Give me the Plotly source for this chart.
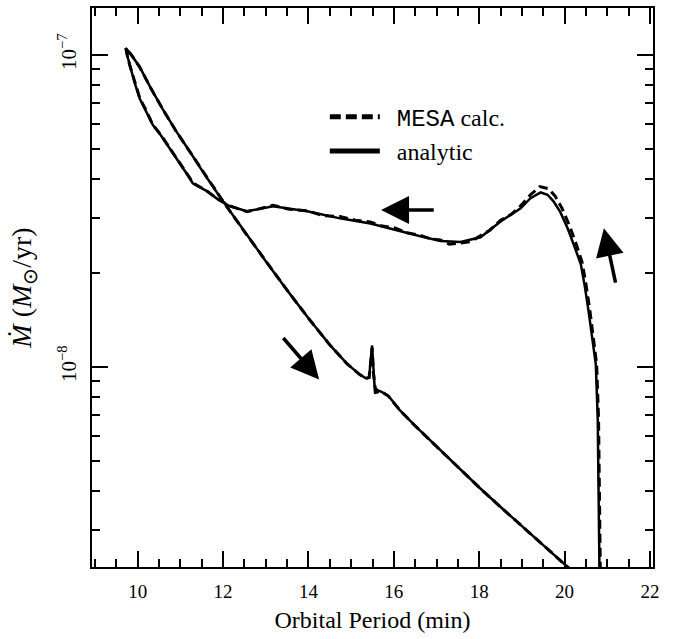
import math
import plotly.graph_objects as go

# ---- data (orbital period in min, mass-transfer rate in Msun/yr), in time order ----
# analytic: rise at P~20.8, plateau leftwards, up to P_min, then straight down-right
analytic_P = [20.82, 20.80, 20.775, 20.73, 20.65, 20.56, 20.47, 20.38, 20.22, 20.07, 19.90, 19.74, 19.60,
              19.44, 19.20, 18.97, 18.50, 18.03, 17.56, 17.09, 16.62, 16.01, 15.45, 14.74, 13.97,
              13.17, 12.86, 12.56, 12.16, 11.88,
              11.60, 11.29, 11.22, 10.75, 10.55, 10.35, 10.20, 10.05, 9.93, 9.81, 9.76, 9.72,
              9.85, 10.05, 10.30, 10.59, 10.90, 11.22, 11.60, 12.00, 12.50, 13.00, 13.50, 14.00,
              14.50, 14.90, 15.20, 15.35, 15.42, 15.46, 15.49, 15.52, 15.56, 15.62, 15.70, 15.87,
              16.15, 16.50, 17.02, 17.50, 18.00, 18.50, 19.00, 19.50, 20.15]
analytic_Mdot = [2.0e-9, 4.23e-9, 6.87e-9, 1.02e-8, 1.245e-8, 1.51e-8, 1.82e-8, 2.13e-8, 2.45e-8, 2.78e-8, 3.13e-8, 3.39e-8, 3.56e-8,
                 3.62e-8, 3.47e-8, 3.22e-8, 2.92e-8, 2.60e-8, 2.51e-8, 2.53e-8, 2.62e-8, 2.76e-8, 2.88e-8, 2.99e-8, 3.15e-8,
                 3.27e-8, 3.20e-8, 3.15e-8, 3.27e-8, 3.44e-8,
                 3.67e-8, 3.87e-8, 4.02e-8, 5.01e-8, 5.50e-8, 5.97e-8, 6.61e-8, 7.23e-8, 8.13e-8, 9.29e-8, 9.89e-8, 1.052e-7,
                 1.0e-7, 9.12e-8, 7.85e-8, 6.68e-8, 5.69e-8, 4.90e-8, 4.07e-8, 3.39e-8, 2.71e-8, 2.18e-8, 1.76e-8, 1.43e-8,
                 1.175e-8, 1.023e-8, 9.44e-9, 9.18e-9, 9.23e-9, 1.05e-8, 1.17e-8, 1.0e-8, 8.2e-9, 8.41e-9, 8.32e-9, 8.07e-9,
                 7.23e-9, 6.46e-9, 5.51e-9, 4.75e-9, 4.10e-9, 3.55e-9, 3.09e-9, 2.68e-9, 2.23e-9]

# MESA calculation: same track with numerical noise, slightly higher peak
mesa_P = [20.84, 20.82, 20.795, 20.75, 20.67, 20.59, 20.50, 20.41, 20.26, 20.11, 19.94, 19.78, 19.62,
          19.42, 19.20, 18.97, 18.75, 18.50, 18.25, 18.03, 17.80, 17.56, 17.30, 17.09, 16.85, 16.62,
          16.30, 16.01, 15.70, 15.45, 15.10, 14.74, 14.35, 13.97, 13.55,
          13.17, 12.86, 12.56, 12.16, 11.88,
          11.60, 11.29, 11.22, 10.75, 10.55, 10.35, 10.20, 10.05, 9.93, 9.81, 9.76, 9.72,
          9.85, 10.05, 10.30, 10.59, 10.90, 11.22, 11.60, 12.00, 12.50, 13.00, 13.50, 14.00,
          14.50, 14.90, 15.20, 15.35, 15.42, 15.46, 15.49, 15.52, 15.56, 15.62, 15.70, 15.87,
          16.15, 16.50, 17.02, 17.50, 18.00, 18.50, 19.00, 19.50, 20.15]
mesa_Mdot = [2.0e-9, 4.20e-9, 6.80e-9, 1.02e-8, 1.25e-8, 1.52e-8, 1.84e-8, 2.16e-8, 2.50e-8, 2.84e-8, 3.22e-8, 3.52e-8, 3.72e-8,
             3.78e-8, 3.56e-8, 3.28e-8, 3.08e-8, 2.95e-8, 2.74e-8, 2.63e-8, 2.52e-8, 2.49e-8, 2.47e-8, 2.55e-8, 2.57e-8, 2.64e-8,
             2.69e-8, 2.79e-8, 2.83e-8, 2.91e-8, 2.95e-8, 3.03e-8, 3.05e-8, 3.16e-8, 3.20e-8,
             3.29e-8, 3.22e-8, 3.14e-8, 3.28e-8, 3.44e-8,
             3.68e-8, 3.88e-8, 4.03e-8, 5.03e-8, 5.52e-8, 5.98e-8, 6.63e-8, 7.25e-8, 8.15e-8, 9.31e-8, 9.90e-8, 1.052e-7,
             1.0e-7, 9.12e-8, 7.85e-8, 6.68e-8, 5.69e-8, 4.90e-8, 4.07e-8, 3.39e-8, 2.71e-8, 2.18e-8, 1.76e-8, 1.43e-8,
             1.175e-8, 1.023e-8, 9.44e-9, 9.18e-9, 9.23e-9, 1.04e-8, 1.15e-8, 9.6e-9, 8.6e-9, 8.3e-9, 8.35e-9, 8.05e-9,
             7.23e-9, 6.46e-9, 5.51e-9, 4.75e-9, 4.10e-9, 3.55e-9, 3.09e-9, 2.68e-9, 2.23e-9]

y_ticks = [1e-8, 1e-7]
y_ticktext = ["10<sup>\u22128</sup>", "10<sup>\u22127</sup>"]
y_minor = [m * 10.0 ** e for e in (-9, -8) for m in range(2, 10)] + [2e-7]

# arrows: (tail P, tail Mdot, head P, head Mdot)
arrows = [
    (16.97, 3.18e-8, 15.70, 3.18e-8),
    (13.38, 1.25e-8, 14.25, 9.1e-9),
    (21.20, 1.84e-8, 20.92, 2.78e-8),
]

SERIF = "Liberation Serif"
MONO = "Liberation Mono"

fig = go.Figure()
fig.add_trace(go.Scatter(
    x=mesa_P, y=mesa_Mdot, mode="lines", showlegend=False,
    line=dict(color="black", width=3, dash="9px,5px"),
))
fig.add_trace(go.Scatter(
    x=analytic_P, y=analytic_Mdot, mode="lines", showlegend=False,
    line=dict(color="black", width=2.5),
))
# legend entries (thicker legend lines as in the reference)
fig.add_trace(go.Scatter(
    x=[None], y=[None], mode="lines",
    name="\u00a0\u00a0<span style=\"font-family:" + MONO + "\">MESA</span> calc.",
    line=dict(color="black", width=5, dash="11px,5px"),
))
fig.add_trace(go.Scatter(
    x=[None], y=[None], mode="lines", name="\u00a0\u00a0analytic",
    line=dict(color="black", width=5),
))

for (tx, ty, hx, hy) in arrows:
    fig.add_annotation(
        x=hx, y=math.log10(hy), ax=tx, ay=math.log10(ty),
        xref="x", yref="y", axref="x", ayref="y",
        showarrow=True, arrowhead=2, arrowsize=1.6, arrowwidth=3.5,
        arrowcolor="black", text="", standoff=0,
    )

fig.update_layout(
    width=675, height=639,
    margin=dict(l=92, r=22, t=6, b=72),
    plot_bgcolor="white", paper_bgcolor="white",
    showlegend=True,
    legend=dict(
        x=0.415, y=0.845, xanchor="left", yanchor="top",
        bgcolor="rgba(0,0,0,0)", borderwidth=0,
        font=dict(family=SERIF, size=24, color="black"),
        itemwidth=50, tracegroupgap=0,
    ),
    xaxis=dict(
        range=[8.93, 22.07], tick0=0, dtick=2,
        showline=True, linecolor="black", linewidth=2, mirror="ticks",
        ticks="inside", ticklen=16, tickwidth=1.5, tickcolor="black",
        showgrid=False, zeroline=False,
        ticklabelstandoff=6,
        tickfont=dict(family=SERIF, size=19, color="black"),
        title=dict(text="Orbital Period (min)", font=dict(family=SERIF, size=24, color="black"), standoff=10),
        minor=dict(dtick=0.5, ticks="inside", ticklen=8, tickwidth=1.5, tickcolor="black"),
    ),
    yaxis=dict(
        type="log", range=[-8.642, -6.850],
        tickmode="array", tickvals=y_ticks, ticktext=y_ticktext, tickangle=-90,
        showline=True, linewidth=2, linecolor="black", mirror="ticks",
        ticks="inside", ticklen=16, tickwidth=1.5, tickcolor="black",
        showgrid=False, zeroline=False,
        ticklabelstandoff=6,
        tickfont=dict(family=SERIF, size=21, color="black"),
        title=dict(text="<i>\u1E40</i> (<i>M</i><sub>\u2299</sub>/yr)", font=dict(family=SERIF, size=28, color="black"), standoff=14),
        minor=dict(tickmode="array", tickvals=y_minor, ticks="inside", ticklen=8, tickwidth=1.5,
                   tickcolor="black", showgrid=False),
    ),
)

fig.write_html("out.html")
